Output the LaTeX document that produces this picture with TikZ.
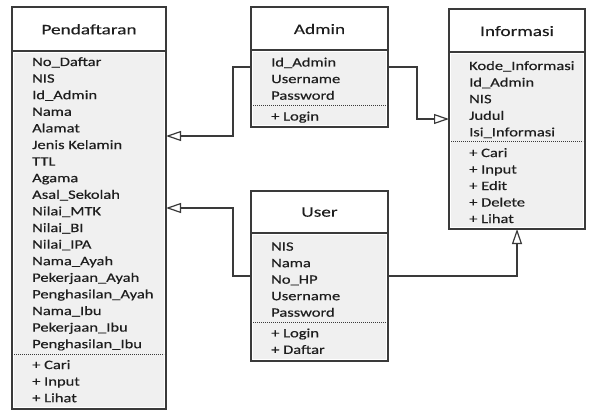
\documentclass[tikz,border=0pt]{standalone}
\usepackage{fontspec}
\setmainfont{Carlito}
\newfontfamily\attrfont[FakeStretch=1.29,FakeBold=0.4]{Carlito}
\newfontfamily\ttlfont[FakeStretch=1.33,FakeBold=0.2]{Carlito}
\usetikzlibrary{arrows.meta,calc}
\definecolor{lin}{HTML}{3A3A3A}
\definecolor{txt}{HTML}{1E1E1E}
\definecolor{bodyfill}{HTML}{F0F0F0}
\tikzset{
  box/.style={draw=lin, line width=1.2pt, inner sep=0pt, outer sep=0pt, anchor=north west},
  attr/.style={anchor=base west, inner sep=0pt, text=txt, font=\attrfont\fontsize{12.8}{14}\selectfont},
  ttl/.style={anchor=base, inner sep=0pt, text=txt, font=\ttlfont\fontsize{14.5}{17}\selectfont},
  sep/.style={draw=lin, line width=0.7pt, dash pattern=on 1.2pt off 0.8pt},
  hdr/.style={draw=lin, line width=1.2pt},
  conn/.style={draw=lin, line width=1.2pt, -{Triangle[open, length=15pt, width=10pt, fill=white]}},
  bfill/.style={fill=bodyfill, draw=none}
}
\begin{document}
\begin{tikzpicture}[x=1pt,y=1pt]
\useasboundingbox (0,0) rectangle (591,-412);
\fill[white] (0,0) rectangle (591,-412);
% body fills
\path[bfill] (14,-53) rectangle (164,-407);
\path[bfill] (253,-52) rectangle (386,-125);
\path[bfill] (253,-235) rectangle (386,-359);
\path[bfill] (451,-54) rectangle (583,-227);
% boxes
\node[box, minimum width=154pt, minimum height=402pt] (pend) at (12,-7) {};
\node[box, minimum width=137pt, minimum height=120pt] (admin) at (251,-7) {};
\node[box, minimum width=137pt, minimum height=170pt] (user) at (251,-191) {};
\node[box, minimum width=136pt, minimum height=220pt] (info) at (449,-9) {};
% header lines
\draw[hdr] ($(pend.north west)+(0,-44)$) -- ($(pend.north east)+(0,-44)$);
\draw[hdr] ($(admin.north west)+(0,-43)$) -- ($(admin.north east)+(0,-43)$);
\draw[hdr] ($(user.north west)+(0,-42)$) -- ($(user.north east)+(0,-42)$);
\draw[hdr] ($(info.north west)+(0,-43)$) -- ($(info.north east)+(0,-43)$);
% titles
\node[ttl] (tpend) at (89,-34.3) {Pendaftaran};
\node[ttl] (tadmin) at (319.5,-34) {Admin};
\node[ttl] (tinfo) at (517,-36) {Informasi};
\node[ttl] (tuser) at (319.5,-216.7) {User};
% Pendaftaran
\foreach \t [count=\i from 0] in {No\_Daftar,NIS,Id\_Admin,Nama,Alamat,Jenis Kelamin,TTL,Agama,Asal\_Sekolah,Nilai\_MTK,Nilai\_BI,Nilai\_IPA,Nama\_Ayah,Pekerjaan\_Ayah,Penghasilan\_Ayah,Nama\_Ibu,Pekerjaan\_Ibu,Penghasilan\_Ibu}
  \node[attr] (pa\i) at (32,{-66-16.6*\i}) {\t};
\draw[sep] (14,-354) -- (164,-354);
\foreach \t [count=\i from 0] in {+ Cari,+ Input,+ Lihat}
  \node[attr] (pm\i) at (32,{-369-16.6*\i}) {\t};
% Admin
\foreach \t [count=\i from 0] in {Id\_Admin,Username,Password}
  \node[attr] (aa\i) at (271,{-66.5-16.6*\i}) {\t};
\draw[sep] (253,-105.5) -- (386,-105.5);
\node[attr] (am0) at (271,-120.5) {+ Login};
% User
\foreach \t [count=\i from 0] in {NIS,Nama,No\_HP,Username,Password}
  \node[attr] (ua\i) at (271,{-250.7-16.5*\i}) {\t};
\draw[sep] (253,-322.5) -- (386,-322.5);
\foreach \t [count=\i from 0] in {+ Login,+ Daftar}
  \node[attr] (um\i) at (271,{-337.3-16.6*\i}) {\t};
% Informasi
\foreach \t [count=\i from 0] in {Kode\_Informasi,Id\_Admin,NIS,Judul,Isi\_Informasi}
  \node[attr] (ia\i) at (469,{-70-16.6*\i}) {\t};
\draw[sep] (451,-141.5) -- (583,-141.5);
\foreach \t [count=\i from 0] in {+ Cari,+ Input,+ Edit,+ Delete,+ Lihat}
  \node[attr] (im\i) at (469,{-157-16.5*\i}) {\t};
% connectors
\draw[conn] (admin.west) -- ++(-18,0) |- ($(pend.north east)+(0,-129)$);
\draw[conn] (user.west) -- ++(-18,0) |- ($(pend.north east)+(0,-201)$);
\draw[conn] (admin.east) -- ++(29,0) |- ($(info.north west)+(0,-110)$);
\draw[conn] (user.east) -| (info.south);
\end{tikzpicture}
\end{document}
